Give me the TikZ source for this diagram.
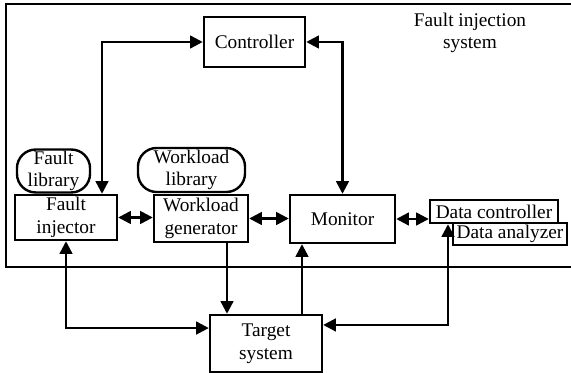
\documentclass[tikz,border=0pt]{standalone}
\usepackage{fontspec}
\setmainfont{Liberation Serif}
\usetikzlibrary{arrows.meta}

\tikzset{
  blk/.style = {draw, line width=1.8pt, fill=white, align=center, inner sep=1pt},
  lib/.style = {blk, rounded corners=14pt},
  tip/.style = {line width=1.8pt, -{Triangle[length=9.5pt,width=9.5pt]}},
  both/.style = {line width=1.8pt, {Triangle[length=9.5pt,width=9.5pt]}-{Triangle[length=9.5pt,width=9.5pt]}}
}

\begin{document}
\begin{tikzpicture}[x=0.75pt, y=-0.75pt, font=\fontsize{14.5}{17}\selectfont]
        \useasboundingbox (0,0) rectangle (571,373);
        % outer frame of the injection system
        \draw[line width=1.8pt] (571,4) -- (6,4) -- (6,267) -- (571,267);
        \node[align=center] (fis) at (470,33) {Fault injection\\system};

        \node[blk, minimum width=75.8pt, minimum height=37.5pt] (ctrl) at (254.5,42) {Controller};
        \node[lib, minimum width=54.8pt, minimum height=31.5pt] (flib) at (53.5,171) {Fault\\library};
        \node[lib, minimum width=80.3pt, minimum height=33pt] (wlib) at (191.5,170) {Workload\\library};
        \node[blk, minimum width=76.5pt, minimum height=33.8pt] (finj) at (66,217.5) {Fault\\injector};
        \node[blk, minimum width=70.5pt, minimum height=35.3pt] (wgen) at (201,218.5) {Workload\\generator};
        \node[blk, minimum width=78.8pt, minimum height=36pt] (mon) at (342.5,219) {Monitor};
        \node[blk, minimum width=96pt, minimum height=17.3pt] (dctl) at (494,211.5) {Data controller};
        \node[blk, minimum width=85.5pt, minimum height=16.5pt] (dana) at (510,234) {Data analyzer};
        \node[blk, minimum width=84pt, minimum height=42.8pt] (tgt) at (266,343.5) {Target\\system};

        % links inside the system
        \draw[both] (ctrl.west) -| ([xshift=27pt]finj.north);
        \draw[both] (ctrl.east) -| (mon.north);
        \draw[both] (finj.east) -- (finj.east -| wgen.west);
        \draw[both] (wgen.east) -- (wgen.east -| mon.west);
        \draw[both] (mon.east) -- (mon.east -| dctl.west);

        % links to the target
        \draw[tip] ([xshift=19.5pt]wgen.south) -- ([xshift=19.5pt]wgen.south |- tgt.north);
        \draw[both] ([yshift=11.6pt]tgt.west) -| (finj.south);
        \draw[tip] ([xshift=27pt]tgt.north) -- ([xshift=27pt]tgt.north |- mon.south);
        \draw[both] ([yshift=13.9pt]tgt.east) -| ([xshift=-34.5pt]dctl.south);
      \end{tikzpicture}
\end{document}
